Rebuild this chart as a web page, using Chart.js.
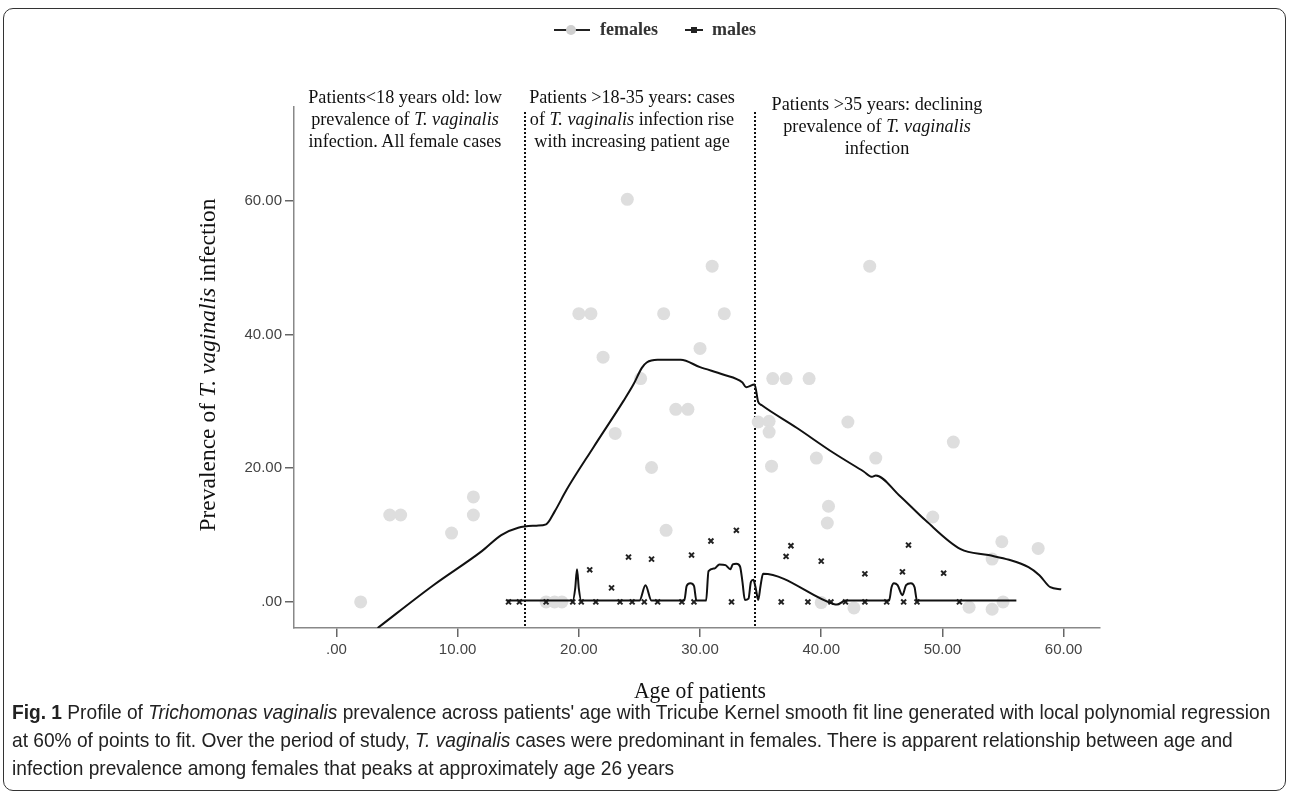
<!DOCTYPE html>
<html>
<head>
<meta charset="utf-8">
<script src="https://cdn.jsdelivr.net/npm/chart.js@4.4.1/dist/chart.umd.min.js"></script>
<style>
    body { margin: 0; background: #fff; width: 1290px; height: 795px; position: relative; overflow: hidden; color: #111; font-family: 'Liberation Serif', serif; }
    #frame { position: absolute; left: 3px; top: 8px; width: 1283px; height: 783px; border: 1.5px solid #333; border-radius: 10px; box-sizing: border-box; }
    #wrap { position: absolute; left: 0; top: 0; width: 1290px; height: 795px; }
    .note { position: absolute; font-size: 18.2px; line-height: 22px; text-align: center; transform: translateX(-50%); white-space: nowrap; }
    #ytitle { position: absolute; left: 207px; top: 365px; font-size: 23.5px; white-space: nowrap; transform: translate(-50%, -50%) rotate(-90deg); }
    #xtitle { position: absolute; left: 700px; top: 690px; font-size: 24px; white-space: nowrap; transform: translate(-50%, -50%) scaleX(0.9); }
    #legend { position: absolute; top: 19px; left: 552px; font-size: 18px; font-weight: bold; color: #333; display: flex; align-items: center; }
    #legend svg { margin-right: 8px; }
    #caption { position: absolute; left: 12px; top: 698px; font-family: 'Liberation Sans', sans-serif; font-size: 21px; line-height: 28px; color: #222; white-space: nowrap; transform: scaleX(0.912); transform-origin: left top; }
</style>
</head>
<body>
<div id="wrap"><canvas id="chart" width="1290" height="795"></canvas></div>
<div id="frame"></div>
<div id="legend">
    <svg width="40" height="14"><line x1="2" y1="7" x2="38" y2="7" stroke="#222" stroke-width="2"/><circle cx="19" cy="7" r="5" fill="#cfcfcf"/></svg>
    <span style="margin-right:26px">females</span>
    <svg width="20" height="14"><line x1="1" y1="7" x2="19" y2="7" stroke="#222" stroke-width="2"/><rect x="7" y="4" width="6" height="6" fill="#222"/></svg>
    <span>males</span>
</div>
<div class="note" style="left:405px; top:86px">Patients&lt;18 years old: low<br>prevalence of <i>T. vaginalis</i><br>infection. All female cases</div>
<div class="note" style="left:632px; top:86px">Patients &gt;18-35 years: cases<br>of <i>T. vaginalis</i> infection rise<br>with increasing patient age</div>
<div class="note" style="left:877px; top:93px">Patients &gt;35 years: declining<br>prevalence of <i>T. vaginalis</i><br>infection</div>
<div id="ytitle">Prevalence of <i>T. vaginalis</i> infection</div>
<div id="xtitle">Age of patients</div>
<div id="caption">
    <div><b>Fig. 1</b> Profile of <i>Trichomonas vaginalis</i> prevalence across patients' age with Tricube Kernel smooth fit line generated with local polynomial regression</div>
    <div>at 60% of points to fit. Over the period of study, <i>T. vaginalis</i> cases were predominant in females. There is apparent relationship between age and</div>
    <div>infection prevalence among females that peaks at approximately age 26 years</div>
</div>
<script>
// observed cases
const femaleAge = [2.0, 4.4, 5.3, 9.5, 11.3, 11.3, 17.3, 18.0, 18.6, 20.0, 21.0, 22.0, 23.0, 24.0, 25.1, 26.0, 27.0, 27.2, 28.0, 29.0,
    30.0, 31.0, 32.0, 34.8, 35.7, 35.7, 35.9, 36.0, 37.1, 39.0, 39.6, 40.0, 40.5, 40.6, 42.2, 42.7, 44.0, 44.5, 49.2, 50.9,
    52.2, 54.1, 54.1, 54.9, 55.0, 57.9];
const femalePrev = [0, 13.0, 13.0, 10.3, 15.7, 13.0, 0, 0, 0, 43.1, 43.1, 36.6, 25.2, 60.2, 33.4, 20.1, 43.1, 10.7, 28.8, 28.8,
    37.9, 50.2, 43.1, 26.9, 27.0, 25.4, 20.3, 33.4, 33.4, 33.4, 21.5, -0.1, 11.8, 14.3, 26.9, -0.9, 50.2, 21.5, 12.7, 23.9,
    -0.8, -1.1, 6.4, 9.0, 0, 8.0];

const maleAge = [14.2, 15.1, 17.3, 19.5, 20.2, 20.9, 21.4, 22.7, 23.4, 24.1, 24.4, 25.4, 26.0, 26.5, 28.5, 29.3, 29.5, 30.9, 32.6, 33.0,
    36.7, 37.1, 37.5, 38.9, 40.0, 40.8, 42.0, 43.6, 43.6, 45.4, 46.7, 46.8, 47.2, 47.9, 50.1, 51.4];
const malePrev = [0, 0, 0, 0, 0, 4.8, 0, 2.1, 0, 6.7, 0, 0, 6.4, 0, 0, 7.0, 0, 9.1, 0, 10.7,
    0, 6.8, 8.4, 0, 6.1, 0, 0, 4.2, 0, 0, 4.5, 0, 8.5, 0, 4.3, 0];

// kernel fit lines
const femaleFitAge = [3.4, 8.0, 12.0, 13.6, 15.0, 16.5, 17.3, 18.0, 19.0, 21.2, 23.7, 24.5, 25.2, 25.6, 26.5, 28.4, 30.0, 31.9, 33.5, 33.8,
    34.5, 34.8, 35.1, 38.0, 41.0, 43.5, 44.2, 44.5, 46.4, 48.6, 51.5, 53.8, 55.5, 57.1, 58.0, 58.9, 59.8];
const femaleFitPrev = [-3.9, 2.5, 7.6, 10.0, 11.1, 11.4, 11.6, 13.5, 16.8, 23.1, 30.1, 32.5, 35.0, 35.8, 36.2, 36.2, 35.1, 34.0, 32.8, 32.1,
    32.5, 29.9, 29.4, 26.0, 22.3, 19.5, 18.7, 18.9, 16.0, 12.2, 7.9, 7.0, 6.3, 5.2, 4.0, 2.2, 1.9];

const maleFitAge = [14.1, 19.5, 19.7, 19.85, 20.0, 20.2, 25.0, 25.5, 26.0, 28.7, 28.9, 29.2, 29.5, 29.7, 30.5, 30.7, 31.2, 31.6, 32.1, 32.5,
    32.7, 33.0, 33.3, 33.5, 33.7, 34.0, 34.2, 34.4, 34.6, 34.8, 35.0, 35.2, 41.0, 41.3, 42.0, 45.6, 45.8, 46.0, 46.3, 46.7,
    47.0, 47.4, 47.7, 47.9, 56.1];
const maleFitPrev = [0.2, 0.2, 2.0, 4.9, 2.0, 0.2, 0.2, 2.5, 0.2, 0.2, 2.4, 2.8, 2.4, 0.2, 0.2, 4.6, 5.0, 5.6, 5.5, 4.9,
    5.6, 5.7, 5.3, 3.0, 0.3, 0.5, 3.0, 3.3, 2.0, 0.3, 2.5, 4.2, -0.3, -0.4, 0.2, 0.2, 2.2, 2.8, 2.5, 1.0,
    2.5, 2.8, 2.2, 0.2, 0.2];

const xTicks = [0, 10, 20, 30, 40, 50, 60];
const yTicks = [0, 20, 40, 60];
const dividerAges = [15.6, 34.5];

const toPoints = (xs, ys) => xs.map((x, i) => ({ x: x, y: ys[i] }));
const fmt = (v) => (v === 0 ? '.00' : v.toFixed(2));

const dividers = {
    id: 'dividers',
    beforeDatasetsDraw(chart) {
        const { ctx, chartArea, scales } = chart;
        ctx.save();
        ctx.strokeStyle = '#111';
        ctx.lineWidth = 2;
        ctx.setLineDash([2, 2]);
        dividerAges.forEach((age) => {
            const px = Math.round(scales.x.getPixelForValue(age));
            ctx.beginPath();
            ctx.moveTo(px, chartArea.top + 5);
            ctx.lineTo(px, chartArea.bottom);
            ctx.stroke();
        });
        ctx.restore();
    },
};

new Chart(document.getElementById('chart'), {
    type: 'scatter',
    data: {
        datasets: [
            {
                label: 'females fit',
                data: toPoints(femaleFitAge, femaleFitPrev),
                showLine: true,
                borderColor: '#111',
                borderWidth: 2,
                pointRadius: 0,
                cubicInterpolationMode: 'monotone',
                order: 1,
            },
            {
                label: 'males fit',
                data: toPoints(maleFitAge, maleFitPrev),
                showLine: true,
                borderColor: '#111',
                borderWidth: 2,
                pointRadius: 0,
                cubicInterpolationMode: 'monotone',
                order: 2,
            },
            {
                label: 'males',
                data: toPoints(maleAge, malePrev),
                pointStyle: 'crossRot',
                pointRadius: 3.5,
                borderColor: '#222',
                borderWidth: 2,
                order: 3,
            },
            {
                label: 'females',
                data: toPoints(femaleAge, femalePrev),
                pointRadius: 6.5,
                backgroundColor: '#dedede',
                borderWidth: 0,
                order: 4,
            },
        ],
    },
    options: {
        responsive: false,
        animation: false,
        layout: { padding: { left: 0, top: 107, right: 190, bottom: 127 } },
        plugins: {
            legend: { display: false },
            tooltip: { enabled: false },
        },
        scales: {
            x: {
                type: 'linear',
                min: -3.5,
                max: 63,
                afterBuildTicks: (axis) => { axis.ticks = xTicks.map((v) => ({ value: v })); },
                afterFit: (scale) => { scale.height = 40; },
                grid: { drawOnChartArea: false, tickLength: 9, color: '#666', lineWidth: 1.5 },
                border: { color: '#888', width: 1.5 },
                ticks: {
                    callback: (v) => fmt(v),
                    color: '#444',
                    padding: 4,
                    maxRotation: 0,
                    font: { family: "'Liberation Sans', sans-serif", size: 15 },
                },
            },
            y: {
                min: -3.9,
                max: 74,
                afterBuildTicks: (axis) => { axis.ticks = yTicks.map((v) => ({ value: v })); },
                afterFit: (scale) => { scale.width = 294; },
                grid: { drawOnChartArea: false, tickLength: 9, color: '#666', lineWidth: 1.5 },
                border: { color: '#888', width: 1.5 },
                ticks: {
                    callback: (v) => fmt(v),
                    color: '#444',
                    padding: 3,
                    font: { family: "'Liberation Sans', sans-serif", size: 15 },
                },
            },
        },
    },
    plugins: [dividers],
});
</script>
</body>
</html>
